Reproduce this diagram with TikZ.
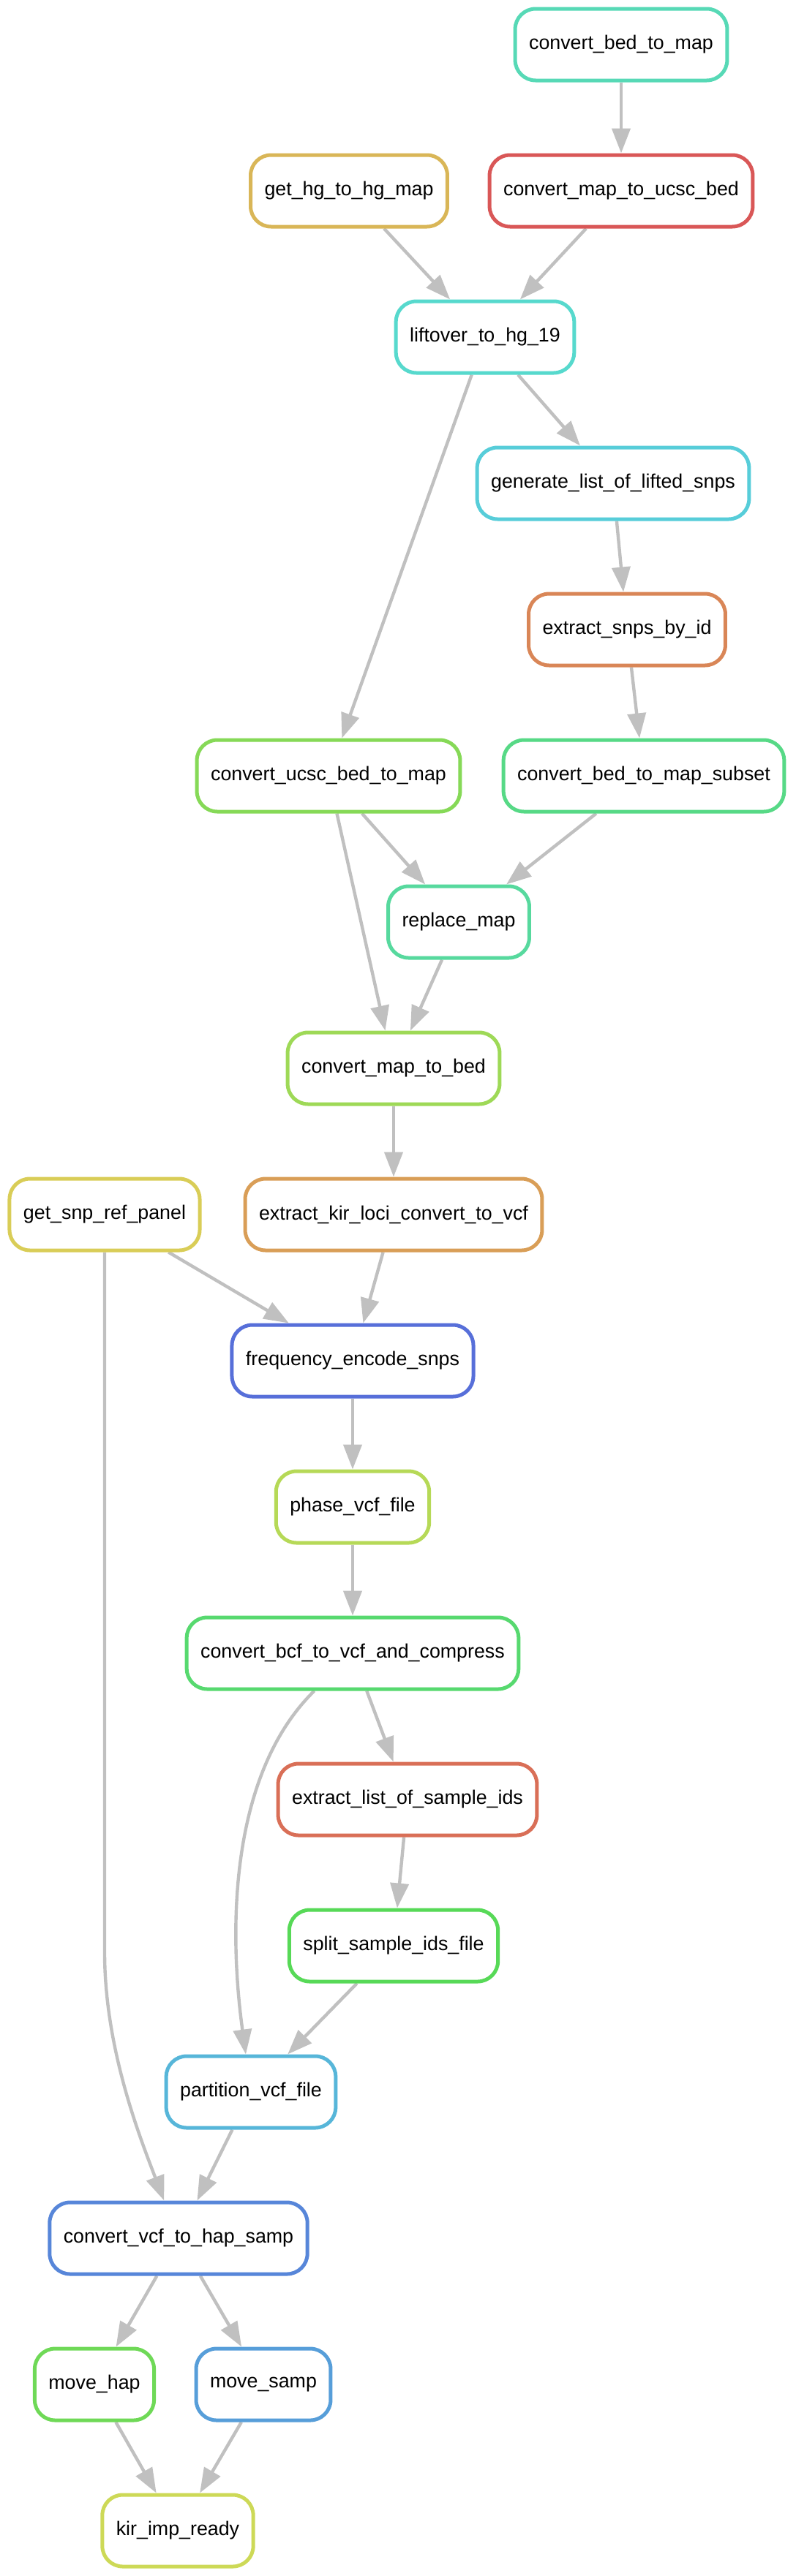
\documentclass[tikz,border=0pt]{standalone}
\usepackage{fontspec}
\setmainfont{Liberation Sans}
\usepackage{tikz}
\usetikzlibrary{arrows.meta}
\pgfdeclarelayer{edgelayer}
\pgfdeclarelayer{nodelayer}
\pgfsetlayers{edgelayer,nodelayer,main}
\definecolor{edgegrey}{HTML}{C0C0C0}
\definecolor{h00}{HTML}{D95757}
\definecolor{h01}{HTML}{D96F57}
\definecolor{h02}{HTML}{D98657}
\definecolor{h03}{HTML}{D99E57}
\definecolor{h04}{HTML}{D9B657}
\definecolor{h05}{HTML}{D9CD57}
\definecolor{h06}{HTML}{CDD957}
\definecolor{h07}{HTML}{B6D957}
\definecolor{h08}{HTML}{9ED957}
\definecolor{h09}{HTML}{86D957}
\definecolor{h10}{HTML}{6FD957}
\definecolor{h11}{HTML}{57D957}
\definecolor{h12}{HTML}{57D96F}
\definecolor{h13}{HTML}{57D986}
\definecolor{h14}{HTML}{57D99E}
\definecolor{h15}{HTML}{57D9B6}
\definecolor{h16}{HTML}{57D9CD}
\definecolor{h17}{HTML}{57CDD9}
\definecolor{h18}{HTML}{57B6D9}
\definecolor{h19}{HTML}{579ED9}
\definecolor{h20}{HTML}{5786D9}
\definecolor{h21}{HTML}{576FD9}
\tikzstyle{none}=[inner sep=0pt]
\tikzstyle{snakerule}=[rectangle,rounded corners=14pt,fill=white,line width=2.5pt,minimum height=49pt,inner xsep=9.5pt,font=\fontsize{13.4}{16}\selectfont]
\tikzstyle{dependency}=[-{Triangle[length=17pt,width=12.5pt]},draw=edgegrey,line width=2.2pt]

\begin{document}
\begin{tikzpicture}[x=50pt,y=50pt]
	\useasboundingbox (0, 0) rectangle (10.87, -35.23);
	\begin{pgfonlayer}{nodelayer}
		\node [style=snakerule, draw=h15] (0) at (8.49, -0.61) {convert\_bed\_to\_map};
		\node [style=snakerule, draw=h04] (1) at (4.77, -2.61) {get\_hg\_to\_hg\_map};
		\node [style=snakerule, draw=h00] (2) at (8.49, -2.61) {convert\_map\_to\_ucsc\_bed};
		\node [style=snakerule, draw=h16] (3) at (6.63, -4.61) {liftover\_to\_hg\_19};
		\node [style=snakerule, draw=h17] (4) at (8.38, -6.61) {generate\_list\_of\_lifted\_snps};
		\node [style=snakerule, draw=h02] (5) at (8.57, -8.61) {extract\_snps\_by\_id};
		\node [style=snakerule, draw=h09] (6) at (4.49, -10.61) {convert\_ucsc\_bed\_to\_map};
		\node [style=snakerule, draw=h13] (7) at (8.80, -10.61) {convert\_bed\_to\_map\_subset};
		\node [style=snakerule, draw=h14] (8) at (6.27, -12.61) {replace\_map};
		\node [style=snakerule, draw=h08] (9) at (5.38, -14.61) {convert\_map\_to\_bed};
		\node [style=snakerule, draw=h05] (10) at (1.43, -16.61) {get\_snp\_ref\_panel};
		\node [style=snakerule, draw=h03] (11) at (5.38, -16.61) {extract\_kir\_loci\_convert\_to\_vcf};
		\node [style=snakerule, draw=h21] (12) at (4.82, -18.61) {frequency\_encode\_snps};
		\node [style=snakerule, draw=h07] (13) at (4.82, -20.61) {phase\_vcf\_file};
		\node [style=snakerule, draw=h12] (14) at (4.82, -22.61) {convert\_bcf\_to\_vcf\_and\_compress};
		\node [style=snakerule, draw=h01] (15) at (5.57, -24.61) {extract\_list\_of\_sample\_ids};
		\node [style=snakerule, draw=h11] (16) at (5.38, -26.61) {split\_sample\_ids\_file};
		\node [style=snakerule, draw=h18] (17) at (3.43, -28.61) {partition\_vcf\_file};
		\node [style=snakerule, draw=h20] (18) at (2.44, -30.61) {convert\_vcf\_to\_hap\_samp};
		\node [style=snakerule, draw=h10] (19) at (1.29, -32.61) {move\_hap};
		\node [style=snakerule, draw=h19] (20) at (3.60, -32.61) {move\_samp};
		\node [style=snakerule, draw=h06] (21) at (2.43, -34.61) {kir\_imp\_ready};
	\end{pgfonlayer}
	\begin{pgfonlayer}{edgelayer}
		\draw [style=dependency] (0) to (2);
		\draw [style=dependency] (1) to (3);
		\draw [style=dependency] (2) to (3);
		\draw [style=dependency] (3) to (4);
		\draw [style=dependency] (3) to (6);
		\draw [style=dependency] (4) to (5);
		\draw [style=dependency] (5) to (7);
		\draw [style=dependency] (6) to (8);
		\draw [style=dependency] (7) to (8);
		\draw [style=dependency] (6) to (9);
		\draw [style=dependency] (8) to (9);
		\draw [style=dependency] (9) to (11);
		\draw [style=dependency] (10) to (12);
		\draw [style=dependency] (11) to (12);
		\draw [style=dependency] (12) to (13);
		\draw [style=dependency] (13) to (14);
		\draw [style=dependency] (14) to (15);
		\draw [style=dependency] (15) to (16);
		\draw [style=dependency] (14) .. controls (3.20, -24.20) and (3.10, -26.20) .. (17);
		\draw [style=dependency] (16) to (17);
		\draw [style=dependency] (10) -- (1.43, -26.70) .. controls (1.43, -28.00) and (1.90, -29.20) .. (18);
		\draw [style=dependency] (17) to (18);
		\draw [style=dependency] (18) to (19);
		\draw [style=dependency] (18) to (20);
		\draw [style=dependency] (19) to (21);
		\draw [style=dependency] (20) to (21);
	\end{pgfonlayer}
\end{tikzpicture}
\end{document}
